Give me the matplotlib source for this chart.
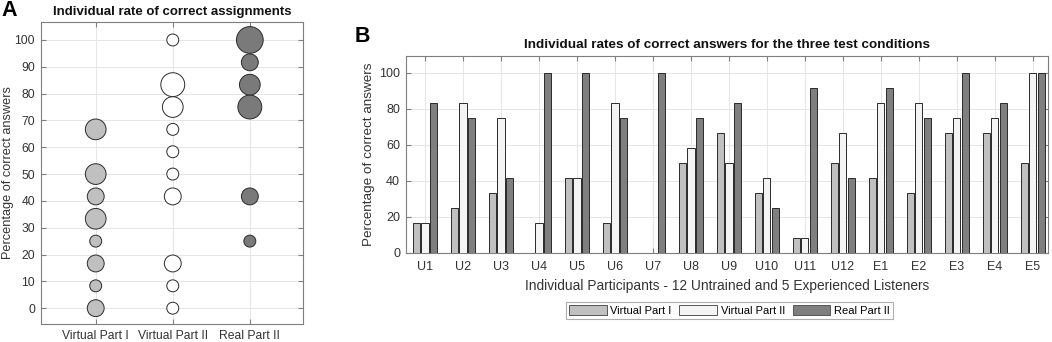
import numpy as np
import matplotlib
matplotlib.use("Agg")
import matplotlib.pyplot as plt
from matplotlib.patches import Patch

plt.rcParams['font.family'] = ['Liberation Sans', 'DejaVu Sans']

participants = ["U1", "U2", "U3", "U4", "U5", "U6", "U7", "U8", "U9", "U10", "U11", "U12",
                "E1", "E2", "E3", "E4", "E5"]
virtual_part1 = [16.67, 25, 33.33, 0, 41.67, 16.67, 0, 50, 66.67, 33.33, 8.33, 50,
                 41.67, 33.33, 66.67, 66.67, 50]
virtual_part2 = [16.67, 83.33, 75, 16.67, 41.67, 83.33, 0, 58.33, 50, 41.67, 8.33, 66.67,
                 83.33, 83.33, 75, 75, 100]
real_part2 = [83.33, 75, 41.67, 100, 100, 75, 100, 75, 83.33, 25, 91.67, 41.67,
              91.67, 75, 100, 83.33, 100]
conditions = ["Virtual Part I", "Virtual Part II", "Real Part II"]

colors = ["#c0c0c0", "#f4f4f4", "#7f7f7f"]
colorsA = ["#c0c0c0", "#ffffff", "#7a7a7a"]
edge = "#2a2a2a"
txt = "#333333"
spine_c = "#7f7f7f"
grid_c = "#e6e6e6"

fig = plt.figure(figsize=(10.52, 3.42), dpi=100)

def style(ax, size):
    for s in ax.spines.values():
        s.set_color(spine_c)
        s.set_linewidth(0.8)
    ax.tick_params(direction='in', colors=spine_c, labelcolor=txt, labelsize=size,
                   top=True, right=True, length=3.5, width=0.8)
    ax.grid(True, color=grid_c, linewidth=0.7)
    ax.set_axisbelow(True)

# Panel A
axA = fig.add_axes([41/1052, 1-324/342, 262/1052, 302/342])
style(axA, 8.7)
series = [virtual_part1, virtual_part2, real_part2]
for i, (vals, c) in enumerate(zip(series, colorsA)):
    u, cnt = np.unique(np.round(vals, 2), return_counts=True)
    axA.scatter(np.full(len(u), i + 1), u, s=cnt * 74, facecolor=c, edgecolor=edge,
                linewidth=0.7, zorder=3)
axA.set_xlim(0.29, 3.69)
axA.set_ylim(-5.9, 106.7)
axA.set_yticks(np.arange(0, 101, 10))
axA.set_xticks([1, 2, 3])
axA.set_xticklabels(conditions)
axA.tick_params(axis='x', pad=4.5)
axA.tick_params(axis='y', pad=4.3)
axA.set_ylabel("Percentage of correct answers", fontsize=9.2, color=txt)
axA.yaxis.set_label_coords(-0.103, 0.5)
axA.set_title("Individual rate of correct assignments", fontsize=9.5, fontweight='bold',
              color='#111111', pad=5)
fig.text(1/1052, 1-15.5/342, "A", fontsize=15.5, fontweight='bold', va='baseline', ha='left')

# Panel B
axB = fig.add_axes([406/1052, 1-252.7/342, 642/1052, 196.7/342])
style(axB, 9)
x = np.arange(1, len(participants) + 1)
offs = [-0.225, 0, 0.225]
for vals, c, o, lab in zip(series, colors, offs, conditions):
    axB.bar(x + o, vals, width=0.19, color=c, edgecolor=edge, linewidth=0.7,
            label=lab, zorder=3)
axB.set_xlim(0.5, 17.4)
axB.set_ylim(0, 109.2)
axB.set_yticks(np.arange(0, 101, 20))
axB.set_xticks(x)
axB.set_xticklabels(participants)
axB.tick_params(axis='x', pad=6)
axB.tick_params(axis='y', pad=4.3)
axB.set_xlabel("Individual Participants - 12 Untrained and 5 Experienced Listeners",
               fontsize=9.9, color=txt, labelpad=4)
axB.set_ylabel("Percentage of correct answers", fontsize=9.7, color=txt, labelpad=3)
axB.set_title("Individual rates of correct answers for the three test conditions",
              fontsize=9.7, fontweight='bold', color='#111111', pad=6)
fig.text(355/1052, 1-42.5/342, "B", fontsize=15.5, fontweight='bold', va='baseline', ha='left')

handles = [Patch(facecolor=c, edgecolor='#555555', linewidth=0.7) for c in colors]
leg = fig.legend(handles, conditions, loc='upper left',
                 bbox_to_anchor=(566/1052, 1-302/342), ncol=3, fontsize=8,
                 frameon=True, fancybox=False, edgecolor='#999999',
                 handlelength=3.4, handleheight=1.0, handletextpad=0.3,
                 columnspacing=0.7, borderpad=0.3, borderaxespad=0)
leg.get_frame().set_linewidth(0.8)

fig.savefig("out.png", dpi=100)
